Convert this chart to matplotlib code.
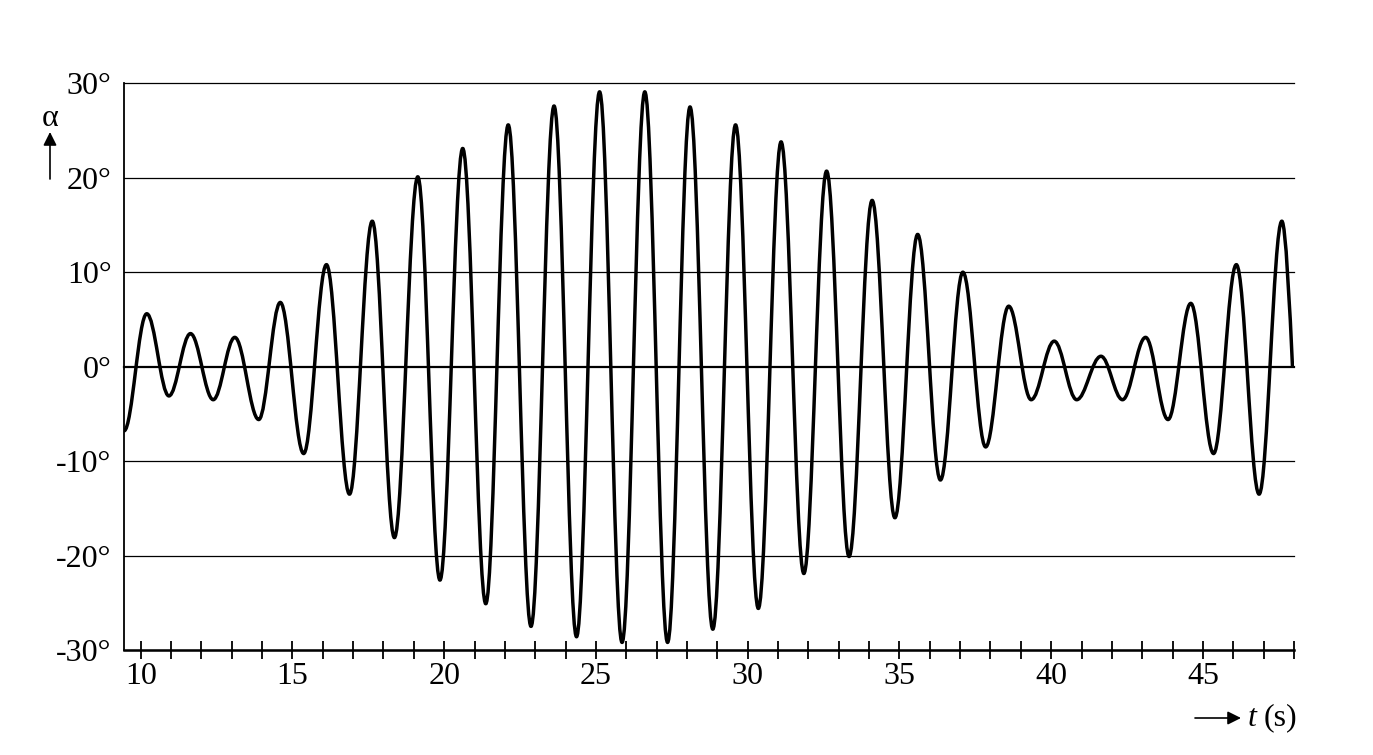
import matplotlib
matplotlib.use("Agg")
import matplotlib.pyplot as plt
from matplotlib.path import Path
from matplotlib.patches import PathPatch

plt.rcParams['font.family'] = ['Liberation Serif', 'DejaVu Serif']

# maxima and minima of the swing (t in s, alpha in degrees)
t_peak = [10.20, 11.64, 13.10, 14.60, 16.12, 17.63, 19.13, 20.61, 22.11, 23.62,
          25.12, 26.61, 28.10, 29.60, 31.10, 32.60, 34.10, 35.60, 37.09, 38.60,
          40.10, 41.64, 43.11, 44.60, 46.10, 47.60]
a_peak = [5.6, 3.5, 3.1, 6.8, 10.8, 15.4, 20.1, 23.1, 25.6, 27.6,
          29.1, 29.1, 27.5, 25.6, 23.8, 20.7, 17.6, 14.0, 10.0, 6.4,
          2.7, 1.1, 3.1, 6.7, 10.8, 15.4]
t_trough = [9.45, 10.93, 12.39, 13.89, 15.37, 16.88, 18.36, 19.86, 21.37, 22.86,
            24.36, 25.86, 27.36, 28.85, 30.35, 31.85, 33.34, 34.85, 36.35, 37.84,
            39.34, 40.84, 42.35, 43.85, 45.35, 46.85]
a_trough = [-6.8, -3.1, -3.5, -5.6, -9.2, -13.5, -18.1, -22.6, -25.1, -27.5,
            -28.6, -29.2, -29.2, -27.8, -25.6, -21.9, -20.1, -16.0, -12.0, -8.5,
            -3.5, -3.5, -3.5, -5.6, -9.2, -13.5]
t_end, a_end = 47.95, 0.0

y_levels = [-30, -20, -10, 0, 10, 20, 30]
y_labels = ['-30°', '-20°', '-10°', '0°', '10°', '20°', '30°']
x_major = [10, 15, 20, 25, 30, 35, 40, 45]
x_minor = list(range(10, 49))

ext = sorted(zip(t_peak + t_trough, a_peak + a_trough))

fig = plt.figure(figsize=(13.73, 7.55), dpi=100)
ax = fig.add_axes([124 / 1373, 105 / 755, 1170 / 1373, 566.7 / 755])
ax.set_xlim(9.45, 48)
ax.set_ylim(-30, 30)

# smooth swing: cubic curves between the extrema, flat at each extremum
verts = [ext[0]]
codes = [Path.MOVETO]
k = 0.364
for (t0, a0), (t1, a1) in zip(ext[:-1], ext[1:]):
    dt = t1 - t0
    verts += [(t0 + k * dt, a0), (t1 - k * dt, a1), (t1, a1)]
    codes += [Path.CURVE4] * 3
t0, a0 = ext[-1]
dt = t_end - t0
verts += [(t0 + 0.35 * dt, a0), (t_end - 0.25 * dt, a_end + 0.25 * a0 * 1.57), (t_end, a_end)]
codes += [Path.CURVE4] * 3
ax.add_patch(PathPatch(Path(verts, codes), facecolor='none', edgecolor='black',
                       lw=2.5, zorder=3, capstyle='butt', joinstyle='round'))

for v in y_levels:
    ax.axhline(v, color='black', lw=1.6 if v == 0 else 0.9, zorder=2, clip_on=False)

for s in ['top', 'right']:
    ax.spines[s].set_visible(False)
ax.spines['left'].set_linewidth(1.3)
ax.spines['bottom'].set_linewidth(1.8)

ax.set_yticks(y_levels)
ax.set_yticklabels(y_labels)
ax.tick_params(axis='y', length=0, pad=9, labelsize=23)
ax.set_xticks(x_major)
ax.set_xticks(x_minor, minor=True)
ax.set_xticklabels([str(v) for v in x_major])
ax.tick_params(axis='x', which='both', direction='inout', length=13, width=1.3,
               pad=2, labelsize=23)

# axis captions with arrows
fig.text(50 / 1373, 1 - 118 / 755, 'α', fontsize=23, ha='center', va='center')
ax.annotate('', xy=(50 / 1373, 1 - 132 / 755), xytext=(50 / 1373, 1 - 179 / 755),
            xycoords='figure fraction', textcoords='figure fraction',
            arrowprops=dict(arrowstyle='-|>', color='black', lw=1.2, mutation_scale=20,
                            shrinkA=0, shrinkB=0))
ax.annotate('', xy=(1241 / 1373, 1 - 718 / 755), xytext=(1195 / 1373, 1 - 718 / 755),
            xycoords='figure fraction', textcoords='figure fraction',
            arrowprops=dict(arrowstyle='-|>', color='black', lw=1.2, mutation_scale=20,
                            shrinkA=0, shrinkB=0))
fig.text(1248 / 1373, 1 - 718 / 755, 't', fontsize=23, style='italic', ha='left', va='center')
fig.text(1264 / 1373, 1 - 718 / 755, '(s)', fontsize=23, ha='left', va='center')

fig.savefig('out.png', dpi=100)
